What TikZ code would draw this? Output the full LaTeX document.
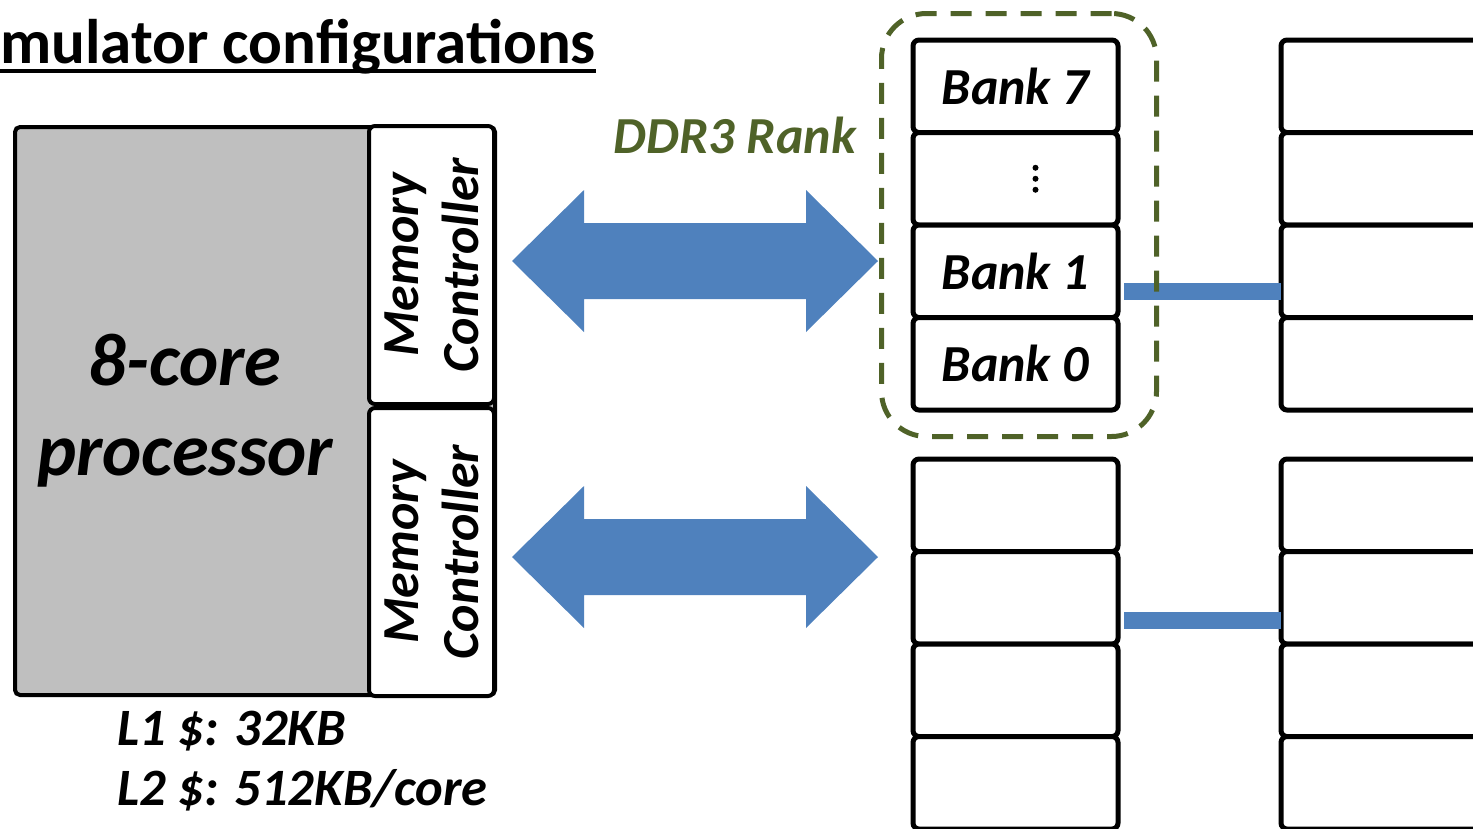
\documentclass[tikz,border=0pt]{standalone}
\usepackage{fontspec}
\setmainfont{Carlito}
\definecolor{ppblue}{HTML}{4F81BD}
\definecolor{rankgreen}{HTML}{4F6228}
\definecolor{procgray}{HTML}{BFBFBF}
\newcommand\bankfont{\fontsize{52}{60}\selectfont\bfseries\itshape}
\newcommand\mcfont{\fontsize{52}{60}\selectfont\bfseries\itshape}
\newcommand\procfont{\fontsize{74.5}{90}\selectfont\bfseries\itshape}
\newcommand\cachefont{\fontsize{52.5}{60}\selectfont\bfseries\itshape}
\newcommand\titlefont{\fontsize{63}{70}\selectfont\bfseries}
\begin{document}
\begin{tikzpicture}[x=1pt,y=-1pt,
  bankbox/.style={draw, line width=5pt, rounded corners=6pt, minimum width=205pt,
    minimum height=92.5pt, inner sep=0pt, outer sep=0pt, fill=white, font=\bankfont},
  procbox/.style={draw, line width=4pt, rounded corners=5pt, fill=procgray, inner sep=0pt, outer sep=0pt},
  mcbox/.style={draw, line width=4pt, rounded corners=6pt, fill=white, inner sep=0pt, outer sep=0pt,
    rotate=90, align=center, font=\mcfont},
  busline/.style={draw=ppblue, line width=17pt},
  bigarrow/.style={fill=ppblue},
  rankbox/.style={draw=rankgreen, line width=5pt, rounded corners=45pt, dash pattern=on 21pt off 14pt,
    minimum width=275pt, minimum height=423pt, inner sep=0pt},
  lbl/.style={inner sep=0pt, outer sep=0pt}
]
\useasboundingbox (0,0) rectangle (1473,828);
\clip (0,0) rectangle (1473,828);

% title
\node[lbl, anchor=base west, font=\titlefont] (title) at (0,63) {mulator configurations};
\draw[line width=3.5pt] ([yshift=-8pt]title.base west) -- ([yshift=-8pt]title.base east);

% processor
\node[procbox, minimum width=480pt, minimum height=568pt] (proc) at (255,411) {};
\node[mcbox, minimum width=278pt, minimum height=125pt] (mc1) at (431.5,265) {Memory\\Controller};
\node[mcbox, minimum width=288pt, minimum height=125pt] (mc2) at (431.5,552) {Memory\\Controller};
\node[lbl, align=center, font=\procfont] (proctext) at (185,411) {8-core\\processor};

% cache labels
\node[lbl, anchor=base west, font=\cachefont] (l1) at (117,745) {L1 \$: 32KB};
\node[lbl, anchor=base west, font=\cachefont] (l2) at (117,805) {L2 \$: 512KB/core};

% double arrows
\coordinate (a1) at (512,261);
\coordinate (a2) at (512,557);
\foreach \a in {a1,a2}{
  \fill[bigarrow] (\a) -- ++(72,-71) -- ++(0,33) -- ++(222,0) -- ++(0,-33) -- ++(72,71)
     -- ++(-72,71) -- ++(0,-33) -- ++(-222,0) -- ++(0,33) -- cycle;
}

% bank stacks
\node[bankbox] (t7) at (1015.5,86.25) {Bank 7};
\node[bankbox] (td) at (1015.5,178.75) {};
\node[bankbox] (t1) at (1015.5,271.25) {Bank 1};
\node[bankbox] (t0) at (1015.5,363.75) {Bank 0};
\fill (td.center) ++(20,-11) circle (3pt) ++(0,11) circle (3pt) ++(0,11) circle (3pt);

\node[bankbox] (u1) at (1383.5,86.25) {};
\node[bankbox] (u2) at (1383.5,178.75) {};
\node[bankbox] (u3) at (1383.5,271.25) {};
\node[bankbox] (u4) at (1383.5,363.75) {};

\node[bankbox] (v1) at (1015.5,505.25) {};
\node[bankbox] (v2) at (1015.5,597.75) {};
\node[bankbox] (v3) at (1015.5,690.25) {};
\node[bankbox] (v4) at (1015.5,782.75) {};

\node[bankbox] (w1) at (1383.5,505.25) {};
\node[bankbox] (w2) at (1383.5,597.75) {};
\node[bankbox] (w3) at (1383.5,690.25) {};
\node[bankbox] (w4) at (1383.5,782.75) {};

% bus lines
\draw[busline, shorten <=6pt] ([yshift=-20pt]t1.east) -- ([yshift=-20pt]u3.west);
\draw[busline, shorten <=6pt] ([yshift=-23pt]v2.east) -- ([yshift=-23pt]w2.west);

% rank
\node[rankbox] (rank) at (1019,225) {};
\node[lbl, font=\bankfont, text=rankgreen] (ranklbl) at (735,135) {DDR3 Rank};
\end{tikzpicture}
\end{document}
